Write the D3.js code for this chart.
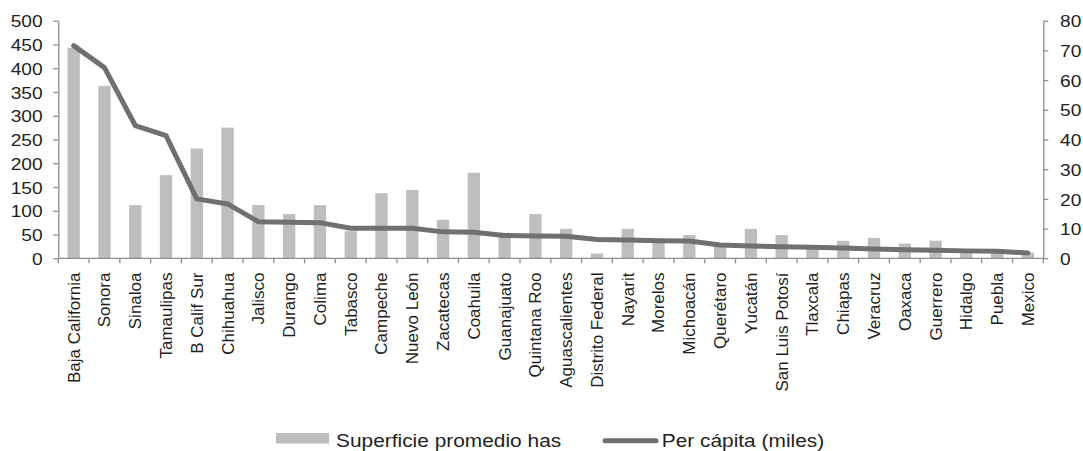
<!DOCTYPE html>
<html>
<head>
<meta charset="utf-8">
<script src="https://cdn.jsdelivr.net/npm/d3@7"></script>
<style>
  html, body { margin: 0; padding: 0; background: #fff; }
  svg { display: block; }
  text { font-family: "Liberation Sans", Arial, sans-serif; fill: #231f20; }
</style>
</head>
<body>
<svg id="chart" width="1083" height="451"></svg>
<script>
const categories = ["Baja California","Sonora","Sinaloa","Tamaulipas","B Calif Sur","Chihuahua","Jalisco","Durango","Colima","Tabasco","Campeche","Nuevo León","Zacatecas","Coahuila","Guanajuato","Quintana Roo","Aguascalientes","Distrito Federal","Nayarit","Morelos","Michoacán","Querétaro","Yucatán","San Luis Potosí","Tlaxcala","Chiapas","Veracruz","Oaxaca","Guerrero","Hidalgo","Puebla","Mexico"];
const superficie = [443,363,112,175,231,275,112,93,112,57,137,144,81,180,45,93,62,10,62,35,49,26,62,49,24,37,43,31,37,16,14,12];
const perCapita = [71.6,64.2,44.7,41.3,20.0,18.3,12.3,12.1,12.0,10.1,10.1,10.1,8.9,8.75,7.7,7.5,7.4,6.3,6.2,5.95,5.8,4.5,4.15,3.9,3.7,3.5,3.1,2.9,2.7,2.5,2.35,1.8];
const leftTicks = [0,50,100,150,200,250,300,350,400,450,500];
const rightTicks = [0,10,20,30,40,50,60,70,80];
const seriesNames = ["Superficie promedio has","Per cápita (miles)"];

const barColor = "#bcbec0", lineColor = "#6f7072", axisColor = "#8e8e8e";
const SX = 1.13; // horizontal stretch of glyphs in the reference
const plotLeft = 58.3, plotRight = 1043.3, plotTop = 20.7, plotBottom = 258.3;

const svg = d3.select("#chart");
const x = d3.scaleBand().domain(categories).range([plotLeft, plotRight]).paddingInner(0.6).paddingOuter(0.3);
const step = x.step();
const cx = d => x(d) + x.bandwidth() / 2;
const yL = d3.scaleLinear().domain([0, 500]).range([plotBottom, plotTop]);
const yR = d3.scaleLinear().domain([0, 80]).range([plotBottom, plotTop]);

// bars
svg.append("g").selectAll("rect").data(categories).join("rect")
  .attr("x", d => x(d))
  .attr("width", x.bandwidth())
  .attr("y", (d, i) => yL(superficie[i]))
  .attr("height", (d, i) => yL(0) - yL(superficie[i]))
  .attr("fill", barColor);

// line
const line = d3.line().x((d, i) => cx(categories[i])).y(d => yR(d));
svg.append("path").datum(perCapita)
  .attr("d", line)
  .attr("fill", "none").attr("stroke", lineColor)
  .attr("stroke-width", 5).attr("stroke-linejoin", "round").attr("stroke-linecap", "round");

// left axis
const gl = svg.append("g").attr("transform", `translate(${plotLeft},0)`)
  .call(d3.axisLeft(yL).tickValues(leftTicks).tickSize(5).tickSizeOuter(0));
gl.select(".domain").attr("stroke", axisColor).attr("stroke-width", 1.3);
gl.selectAll(".tick line").attr("stroke", axisColor).attr("stroke-width", 1.3);
gl.selectAll(".tick text").attr("x", 0).attr("dy", "0.36em")
  .attr("transform", `translate(-15.6,0) scale(${SX},1)`)
  .style("font-size", "17px").style("font-family", "'Liberation Sans', Arial, sans-serif").attr("fill", "#231f20");

// right axis
const gr = svg.append("g").attr("transform", `translate(${plotRight},0)`)
  .call(d3.axisRight(yR).tickValues(rightTicks).tickSize(5).tickSizeOuter(0));
gr.select(".domain").attr("stroke", axisColor).attr("stroke-width", 1.3);
gr.selectAll(".tick line").attr("stroke", axisColor).attr("stroke-width", 1.3);
gr.selectAll(".tick text").attr("x", 0).attr("dy", "0.36em")
  .attr("transform", `translate(16.7,0) scale(${SX},1)`)
  .style("font-size", "17px").style("font-family", "'Liberation Sans', Arial, sans-serif").attr("fill", "#231f20");

// bottom axis
const gb = svg.append("g").attr("transform", `translate(0,${plotBottom})`);
gb.append("line").attr("x1", plotLeft).attr("x2", plotRight).attr("stroke", axisColor).attr("stroke-width", 1.3);
const bounds = categories.map(c => x(c) - (step - x.bandwidth()) / 2).concat([plotRight]);
gb.selectAll("line.tk").data(bounds).join("line").attr("class", "tk")
  .attr("x1", d => d).attr("x2", d => d).attr("y1", 0).attr("y2", 5)
  .attr("stroke", axisColor).attr("stroke-width", 1.3);
gb.selectAll("text").data(categories).join("text")
  .attr("transform", d => `translate(${cx(d)},${272.5 - plotBottom}) rotate(-90)`)
  .attr("text-anchor", "end").attr("dy", "0.35em")
  .style("font-size", "17px")
  .text(d => d);

// legend
const lg = svg.append("g");
lg.append("rect").attr("x", 276).attr("y", 433).attr("width", 53).attr("height", 10.5).attr("fill", barColor);
lg.append("text").attr("transform", `translate(336,447) scale(${SX},1)`).style("font-size", "18.5px").text(seriesNames[0]);
lg.append("line").attr("x1", 605).attr("x2", 656).attr("y1", 440.7).attr("y2", 440.7)
  .attr("stroke", lineColor).attr("stroke-width", 5).attr("stroke-linecap", "round");
lg.append("text").attr("transform", `translate(661.7,447) scale(${SX},1)`).style("font-size", "18.5px").text(seriesNames[1]);
</script>
</body>
</html>
